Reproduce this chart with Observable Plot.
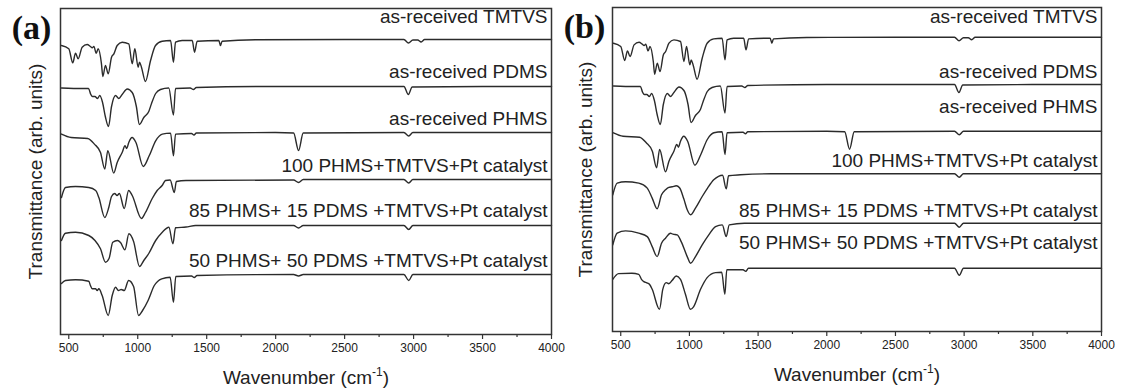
<!DOCTYPE html>
<html><head><meta charset="utf-8">
<script src="https://cdn.jsdelivr.net/npm/d3@7"></script>
<script src="https://cdn.jsdelivr.net/npm/@observablehq/plot@0.6"></script>
<style>
html,body{margin:0;padding:0;background:#fff;}
#wrap{position:relative;width:1124px;height:389px;overflow:hidden;background:#fff;}
#wrap svg{position:absolute;top:0;}
</style></head><body><div id="wrap"></div>
<script>
// ---- data (wavenumber cm-1, relative transmittance, arb. units; 0 = flat baseline) ----
const seriesLabels = [
  "as-received TMTVS",
  "as-received PDMS",
  "as-received PHMS",
  "100 PHMS+TMTVS+Pt catalyst",
  "85 PHMS+ 15 PDMS +TMTVS+Pt catalyst",
  "50 PHMS+ 50 PDMS +TMTVS+Pt catalyst"
];
const xTicks = [500, 1000, 1500, 2000, 2500, 3000, 3500, 4000];
const xMinorTicks = [750, 1250, 1750, 2250, 2750, 3250, 3750];

const tmtvs = [[447,-6],[500,-9.3],[529,-23.3],[549,-13.7],[568,-19.3],[597,-7.7],[633,-5],[657,-7],[670,-8.3],[682,-7],[699,-13.7],[713,-9.3],[737,-24.3],[747,-37],[766,-26],[786,-34.3],[810,-17.7],[827,-14.3],[851,-6],[887,-2.7],[935,-4.3],[960,-24.3],[979,-9.3],[1003,-27.7],[1013,-22.7],[1027,-27.7],[1056,-42],[1093,-21],[1129,-6],[1177,-1.7],[1238,-1],[1259,-22.7],[1274,-2.7],[1322,-1],[1395,-1],[1412,-12.7],[1431,-1.7],[1588,-1],[1600,-6],[1612,-1.7],[1854,-0.3],[2500,0],[2930,0],[2963,-3.5],[2995,-0.5],[3030,-0.5],[3055,-2.5],[3080,0],[3500,0],[4000,0]];
const pdms = [[447,-1.5],[600,-2],[643,-2],[660,-8],[672,-10],[690,-10],[708,-12],[725,-9],[745,-16],[765,-30],[788,-40],[810,-20],[839,-9],[863,-12],[887,-8],[924,-2.5],[960,-6],[990,-20],[1012,-38],[1044,-31],[1080,-25],[1100,-17],[1130,-7],[1165,-3],[1225,-1.5],[1259,-28.5],[1274,-2],[1380,-1.5],[1404,-3],[1425,-1],[2000,0],[2930,0],[2962,-8],[2990,-0.5],[3500,0],[4000,0]];
const phms = [[447,-1.6],[517,-5],[637,-6],[686,-11.6],[730,-20],[761,-36.6],[783,-18.3],[826,-40.6],[851,-30],[887,-20],[908,-13.3],[920,-16],[935,-10],[959,-5],[987,-10],[1040,-34],[1083,-23.3],[1130,-8.3],[1178,-1.6],[1238,-0.6],[1259,-23.3],[1274,-1.6],[1390,-1],[1408,-2.5],[1425,-0.5],[2000,0],[2130,-0.5],[2166,-18],[2200,-0.5],[2930,0],[2965,-3.5],[2995,0],[4000,0]];
const aCured100 = [[447,-18],[476,-8],[549,-7],[645,-8],[695,-11],[718,-18],[761,-38],[790,-28],[810,-17],[833,-14],[850,-16],[867,-14],[902,-29],[934,-11],[960,-16],[1027,-39],[1056,-33],[1105,-19],[1141,-11],[1177,-6],[1201,-1],[1235,-0.5],[1265,-13],[1280,-2],[1350,-1],[2130,-0.5],[2166,-3],[2200,0],[2930,0],[2965,-3.5],[2995,0],[4000,0]];
const aCured85 = [[447,-15],[476,-7.7],[549,-6.7],[645,-10],[690,-15],[730,-23.3],[766,-36.7],[792,-33],[819,-16.7],[853,-15],[875,-17],[907,-24.3],[936,-8.3],[970,-16],[1013,-41],[1044,-35],[1080,-28],[1130,-15],[1178,-6.7],[1226,-1.7],[1255,-18.3],[1274,-2.3],[1350,-1.5],[1420,0],[2130,0],[2166,-2.5],[2200,0],[2930,0],[2965,-4],[2995,0],[4000,0]];
const aCured50 = [[447,-9],[476,-6],[549,-5.3],[645,-6.7],[657,-11],[670,-14.3],[694,-14.3],[706,-16],[718,-14.3],[742,-21],[786,-41],[815,-21],[839,-12.7],[860,-16],[880,-15],[902,-16],[934,-6],[970,-12],[1006,-41],[1035,-36],[1075,-26],[1120,-11],[1174,-4.3],[1235,-2.7],[1259,-27.7],[1276,-2],[1390,-1.5],[1410,-3],[1430,-1],[2130,0],[2166,-1.5],[2200,0],[2930,0],[2965,-6],[2995,0],[4000,0]];
const bCured100 = [[442,-21],[474,-9.3],[535,-8],[631,-9.3],[693,-14.3],[729,-24.3],[765,-35],[797,-21],[826,-16],[850,-13.5],[875,-13],[904,-12],[928,-14],[959,-25],[984,-36],[1008,-41],[1044,-34.3],[1093,-22.7],[1132,-14.3],[1177,-6],[1212,-2.5],[1241,-1.5],[1268,-15],[1285,-2],[1372,-1],[1600,0],[2930,0],[2965,-3.5],[2995,0],[4000,0]];
const bCured85 = [[442,-21.7],[474,-10],[535,-7.7],[631,-10],[693,-13.4],[729,-23.4],[765,-33.4],[797,-20],[826,-15],[862,-10],[880,-11],[911,-11.7],[940,-18.4],[984,-33.4],[1008,-40],[1044,-33.4],[1093,-21.7],[1141,-11.7],[1190,-3.4],[1239,-1.7],[1268,-13.4],[1290,-1.7],[1400,0],[2930,0],[2965,-4],[2995,0],[4000,0]];
const bCured50 = [[442,-10.5],[484,-4.8],[581,-4.5],[631,-5.5],[651,-10.5],[668,-12.8],[690,-14],[709,-15.5],[729,-20.5],[782,-40.5],[806,-20.5],[831,-13.8],[850,-15],[875,-11.5],[904,-7.2],[935,-10.5],[971,-25.5],[1008,-40.5],[1030,-38],[1081,-20.5],[1129,-8.8],[1190,-3.8],[1235,-3.5],[1258,-25.5],[1272,-1],[1390,-1],[1410,-2.5],[1430,0.5],[2930,0.5],[2965,-6.5],[2995,0.5],[4000,0.5]];

// vertical stacking offset of each trace and the level of its label (arb. units)
const offsetsA = [295, 248, 202, 155, 109, 60];
const labelLevelA = [317.3, 262.3, 215.7, 169, 123.3, 74];
const offsetsB = [294.3, 247, 200.3, 157.7, 108.3, 62.7];
const labelLevelB = [314.3, 259.3, 225, 171, 120.3, 88.3];

const spectraA = [tmtvs, pdms, phms, aCured100, aCured85, aCured50];
const spectraB = [tmtvs, pdms, phms, bCured100, bCured85, bCured50];

const X_TITLE = "Wavenumber (cm-1)";

function makePanel({tag, spectra, offsets, levels, yMax, left, width, mL, mR, mT, mB, tagDx, yTitleDx}) {
  const rows = spectra.flatMap((pts, i) => pts.map(([w, v]) => ({series: i, w, t: offsets[i] + v})));
  const labelRows = seriesLabels.map((s, i) => ({text: s, y: levels[i]}));
  const svg = Plot.plot({
    width, height: 389,
    marginLeft: mL, marginRight: mR, marginTop: mT, marginBottom: mB,
    style: {fontFamily: "'Liberation Sans', Arial, sans-serif", background: "transparent", overflow: "visible", color: "#222"},
    x: {domain: [440, 4000], axis: null},
    y: {domain: [0, yMax], axis: null},
    marks: [
      Plot.axisX(xMinorTicks, {tickSize: 3, tickFormat: () => "", stroke: "#333", strokeWidth: 1.2, label: null}),
      Plot.axisX(xTicks, {tickSize: 5, tickPadding: 4, fontSize: 12, stroke: "#333", strokeWidth: 1.2, fill: "#222", label: null, tickFormat: d => String(d)}),
      Plot.line(rows, {x: "w", y: "t", z: "series", stroke: "#2b2b2b", strokeWidth: 1.4, curve: "monotone-x"}),
      Plot.text(labelRows, {x: 4000, y: "y", text: "text", textAnchor: "end", dx: -4, fontSize: 19, fill: "#222"}),
      Plot.frame({stroke: "#333", strokeWidth: 1.5}),
      Plot.text([X_TITLE], {frameAnchor: "bottom", dy: 43, lineAnchor: "middle", textAnchor: "middle", fontSize: 19, fill: "#222"}),
      Plot.text(["Transmittance (arb. units)"], {frameAnchor: "left", rotate: -90, dx: yTitleDx, textAnchor: "middle", lineAnchor: "middle", fontSize: 19, fill: "#222"}),
      Plot.text([tag], {frameAnchor: "top-left", dx: tagDx, dy: 20, textAnchor: "middle", lineAnchor: "middle", fontSize: 34, fontWeight: "bold", fontFamily: "'Liberation Serif', 'Times New Roman', serif", fill: "#111"})
    ]
  });
  svg.style.left = left + "px";
  svg.querySelectorAll("text").forEach(t => {
    if (t.textContent === X_TITLE) {
      t.textContent = "";
      const NS = "http://www.w3.org/2000/svg";
      t.appendChild(document.createTextNode("Wavenumber (cm"));
      const sup = document.createElementNS(NS, "tspan");
      sup.setAttribute("dy", "-8"); sup.setAttribute("font-size", "12"); sup.textContent = "-1";
      const close = document.createElementNS(NS, "tspan");
      close.setAttribute("dy", "8"); close.textContent = ")";
      t.appendChild(sup); t.appendChild(close);
    }
  });
  return svg;
}

const wrap = document.getElementById("wrap");
wrap.appendChild(makePanel({tag: "(a)", spectra: spectraA, offsets: offsetsA, levels: labelLevelA, yMax: 326,
  left: 0, width: 580, mL: 60, mR: 29, mT: 8, mB: 55, tagDx: -29, yTitleDx: -25}));
wrap.appendChild(makePanel({tag: "(b)", spectra: spectraB, offsets: offsetsB, levels: labelLevelB, yMax: 324,
  left: 560, width: 564, mL: 52, mR: 23, mT: 7, mB: 58, tagDx: -28, yTitleDx: -27}));
</script></body></html>
